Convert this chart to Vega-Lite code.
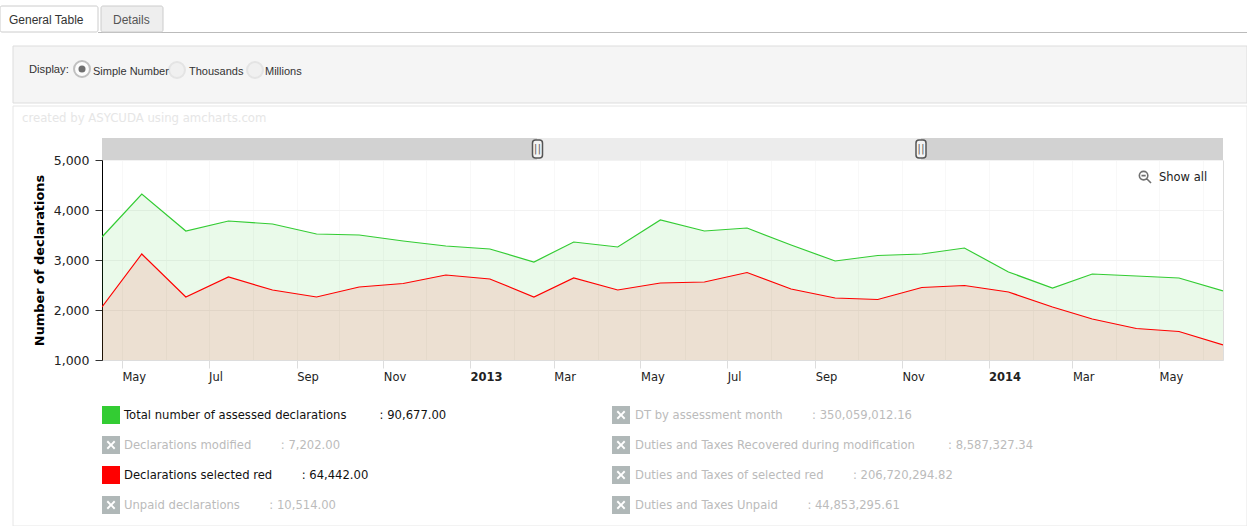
{"$schema":"https://vega.github.io/schema/vega-lite/v6.json","width":1121,"height":200,"autosize":"none","padding":{"left":102,"top":160,"right":24,"bottom":166},"background":"white","resolve":{"scale":{"x":"independent","y":"independent","color":"independent"},"axis":{"x":"independent","y":"independent"}},"layer":[
{"data":{"values":[{"part":"chart frame"}]},"mark":{"type":"rect","fill":"transparent","stroke":"#e6e6e6"},"encoding":{"x":{"datum":0,"scale":{"domain":[0,1],"range":[-89,1145]},"axis":null},"x2":{"datum":1},"y":{"datum":0,"scale":{"domain":[0,1],"range":[-54,366]},"axis":null},"y2":{"datum":1}}},
{"data":{"values":[{"part":"display panel"}]},"mark":{"type":"rect","fill":"#f5f5f5","stroke":"#dddddd"},"encoding":{"x":{"datum":0,"scale":{"domain":[0,1],"range":[-89,1145]},"axis":null},"x2":{"datum":1},"y":{"datum":0,"scale":{"domain":[0,1],"range":[-114,-57]},"axis":null},"y2":{"datum":1}}},
{"data":{"values":[{"part":"tab rule"}]},"mark":{"type":"rect","fill":"#bbbbbb"},"encoding":{"x":{"datum":0,"scale":{"domain":[0,1],"range":[-4,1145]},"axis":null},"x2":{"datum":1},"y":{"datum":0,"scale":{"domain":[0,1],"range":[-128,-127]},"axis":null},"y2":{"datum":1}}},
{"data":{"values":[{"part":"General Table tab"}]},"mark":{"type":"rect","fill":"white","stroke":"#cccccc","cornerRadius":2},"encoding":{"x":{"datum":0,"scale":{"domain":[0,1],"range":[-102,-4]},"axis":null},"x2":{"datum":1},"y":{"datum":0,"scale":{"domain":[0,1],"range":[-154,-128]},"axis":null},"y2":{"datum":1}}},
{"data":{"values":[{"part":"Details tab"}]},"mark":{"type":"rect","fill":"#eeeeee","stroke":"#cccccc","cornerRadius":2},"encoding":{"x":{"datum":0,"scale":{"domain":[0,1],"range":[-1,61]},"axis":null},"x2":{"datum":1},"y":{"datum":0,"scale":{"domain":[0,1],"range":[-154,-128]},"axis":null},"y2":{"datum":1}}},
{"data":{"values":[{"part":"scrollbar"}]},"mark":{"type":"rect","fill":"#d2d2d2"},"encoding":{"x":{"datum":0,"scale":{"domain":[0,1],"range":[0,1121]},"axis":null},"x2":{"datum":1},"y":{"datum":0,"scale":{"domain":[0,1],"range":[-22,0]},"axis":null},"y2":{"datum":1}}},
{"data":{"values":[{"part":"scrollbar window"}]},"mark":{"type":"rect","fill":"#ececec"},"encoding":{"x":{"datum":0,"scale":{"domain":[0,1],"range":[435,819]},"axis":null},"x2":{"datum":1},"y":{"datum":0,"scale":{"domain":[0,1],"range":[-22,0]},"axis":null},"y2":{"datum":1}}},
{"data":{"values":[{"handle":"start"},{"handle":"end"}]},"mark":{"type":"rect","width":10,"height":18,"fill":"#f4f4f4","stroke":"#555555","strokeWidth":1.5,"cornerRadius":3},"encoding":{"x":{"field":"handle","type":"nominal","scale":{"type":"point","domain":["start","end"],"range":[435.5,819],"padding":0},"axis":null},"y":{"datum":0,"scale":{"domain":[0,1],"range":[-11,-10]},"axis":null}}},
{"data":{"values":[{"handle":"start"},{"handle":"end"}]},"mark":{"type":"text","text":"||","font":"DejaVu Sans","fontSize":11,"color":"#666666","align":"center","baseline":"middle"},"encoding":{"x":{"field":"handle","type":"nominal","scale":{"type":"point","domain":["start","end"],"range":[435.5,819],"padding":0},"axis":null},"y":{"datum":0,"scale":{"domain":[0,1],"range":[-11,-10]},"axis":null}}},
{"data":{"values":[{"option":"Simple Number"}]},"mark":{"type":"point","shape":"circle","size":254,"filled":true,"fill":"white","stroke":"#aaaaaa"},"encoding":{"x":{"datum":0,"scale":{"domain":[0,1],"range":[-20,-19]},"axis":null},"y":{"datum":0,"scale":{"domain":[0,1],"range":[-91,-90]},"axis":null}}},
{"data":{"values":[{"option":"Simple Number"}]},"mark":{"type":"point","shape":"circle","size":50,"filled":true,"fill":"#333333","stroke":null},"encoding":{"x":{"datum":0,"scale":{"domain":[0,1],"range":[-20,-19]},"axis":null},"y":{"datum":0,"scale":{"domain":[0,1],"range":[-91,-90]},"axis":null}}},
{"data":{"values":[{"option":"Thousands"},{"option":"Millions"}]},"mark":{"type":"point","shape":"circle","size":254,"filled":true,"fill":"#eeeeee","stroke":"#dddddd"},"encoding":{"x":{"field":"option","type":"nominal","scale":{"type":"point","domain":["Thousands","Millions"],"range":[75,153],"padding":0},"axis":null},"y":{"datum":0,"scale":{"domain":[0,1],"range":[-90,-89]},"axis":null}}},
{"data":{"values":[{"label":"General Table"}]},"mark":{"type":"text","font":"Liberation Sans","fontSize":12,"color":"#333333","align":"left","baseline":"middle"},"encoding":{"text":{"field":"label"},"x":{"datum":0,"scale":{"domain":[0,1],"range":[-93,-92]},"axis":null},"y":{"datum":0,"scale":{"domain":[0,1],"range":[-140,-139]},"axis":null}}},
{"data":{"values":[{"label":"Details"}]},"mark":{"type":"text","font":"Liberation Sans","fontSize":12,"color":"#555555","align":"left","baseline":"middle"},"encoding":{"text":{"field":"label"},"x":{"datum":0,"scale":{"domain":[0,1],"range":[11,12]},"axis":null},"y":{"datum":0,"scale":{"domain":[0,1],"range":[-140,-139]},"axis":null}}},
{"data":{"values":[{"label":"Display:"}]},"mark":{"type":"text","font":"Liberation Sans","fontSize":11.2,"color":"#333333","align":"left","baseline":"middle"},"encoding":{"text":{"field":"label"},"x":{"datum":0,"scale":{"domain":[0,1],"range":[-73,-72]},"axis":null},"y":{"datum":0,"scale":{"domain":[0,1],"range":[-90,-89]},"axis":null}}},
{"data":{"values":[{"label":"Simple Number"}]},"mark":{"type":"text","font":"Liberation Sans","fontSize":11,"color":"#333333","align":"left","baseline":"middle"},"encoding":{"text":{"field":"label"},"x":{"datum":0,"scale":{"domain":[0,1],"range":[-9,-8]},"axis":null},"y":{"datum":0,"scale":{"domain":[0,1],"range":[-88,-87]},"axis":null}}},
{"data":{"values":[{"label":"Thousands"}]},"mark":{"type":"text","font":"Liberation Sans","fontSize":11,"color":"#333333","align":"left","baseline":"middle"},"encoding":{"text":{"field":"label"},"x":{"datum":0,"scale":{"domain":[0,1],"range":[87,88]},"axis":null},"y":{"datum":0,"scale":{"domain":[0,1],"range":[-88,-87]},"axis":null}}},
{"data":{"values":[{"label":"Millions"}]},"mark":{"type":"text","font":"Liberation Sans","fontSize":11,"color":"#333333","align":"left","baseline":"middle"},"encoding":{"text":{"field":"label"},"x":{"datum":0,"scale":{"domain":[0,1],"range":[163,164]},"axis":null},"y":{"datum":0,"scale":{"domain":[0,1],"range":[-88,-87]},"axis":null}}},
{"data":{"values":[{"label":"created by ASYCUDA using amcharts.com"}]},"mark":{"type":"text","font":"DejaVu Sans","fontSize":11.7,"color":"#e6e6e6","align":"left","baseline":"middle"},"encoding":{"text":{"field":"label"},"x":{"datum":0,"scale":{"domain":[0,1],"range":[-80,-79]},"axis":null},"y":{"datum":0,"scale":{"domain":[0,1],"range":[-42,-41]},"axis":null}}},
{"data":{"name":"months","values":[
{"month":"2012-04-17","series":"Total number of assessed declarations","count":3460},{"month":"2012-05-15","series":"Total number of assessed declarations","count":4320},{"month":"2012-06-15","series":"Total number of assessed declarations","count":3580},{"month":"2012-07-15","series":"Total number of assessed declarations","count":3780},{"month":"2012-08-15","series":"Total number of assessed declarations","count":3720},{"month":"2012-09-15","series":"Total number of assessed declarations","count":3520},{"month":"2012-10-15","series":"Total number of assessed declarations","count":3500},{"month":"2012-11-15","series":"Total number of assessed declarations","count":3380},{"month":"2012-12-15","series":"Total number of assessed declarations","count":3280},{"month":"2013-01-15","series":"Total number of assessed declarations","count":3220},{"month":"2013-02-15","series":"Total number of assessed declarations","count":2960},{"month":"2013-03-15","series":"Total number of assessed declarations","count":3360},{"month":"2013-04-15","series":"Total number of assessed declarations","count":3260},{"month":"2013-05-15","series":"Total number of assessed declarations","count":3800},{"month":"2013-06-15","series":"Total number of assessed declarations","count":3580},{"month":"2013-07-15","series":"Total number of assessed declarations","count":3640},{"month":"2013-08-15","series":"Total number of assessed declarations","count":3300},{"month":"2013-09-15","series":"Total number of assessed declarations","count":2980},{"month":"2013-10-15","series":"Total number of assessed declarations","count":3090},{"month":"2013-11-15","series":"Total number of assessed declarations","count":3120},{"month":"2013-12-15","series":"Total number of assessed declarations","count":3240},{"month":"2014-01-15","series":"Total number of assessed declarations","count":2760},{"month":"2014-02-15","series":"Total number of assessed declarations","count":2440},{"month":"2014-03-15","series":"Total number of assessed declarations","count":2720},{"month":"2014-04-15","series":"Total number of assessed declarations","count":2680},{"month":"2014-05-15","series":"Total number of assessed declarations","count":2640},{"month":"2014-06-15","series":"Total number of assessed declarations","count":2380},
{"month":"2012-04-17","series":"Declarations selected red","count":2060},{"month":"2012-05-15","series":"Declarations selected red","count":3120},{"month":"2012-06-15","series":"Declarations selected red","count":2260},{"month":"2012-07-15","series":"Declarations selected red","count":2660},{"month":"2012-08-15","series":"Declarations selected red","count":2400},{"month":"2012-09-15","series":"Declarations selected red","count":2260},{"month":"2012-10-15","series":"Declarations selected red","count":2460},{"month":"2012-11-15","series":"Declarations selected red","count":2530},{"month":"2012-12-15","series":"Declarations selected red","count":2700},{"month":"2013-01-15","series":"Declarations selected red","count":2620},{"month":"2013-02-15","series":"Declarations selected red","count":2260},{"month":"2013-03-15","series":"Declarations selected red","count":2640},{"month":"2013-04-15","series":"Declarations selected red","count":2400},{"month":"2013-05-15","series":"Declarations selected red","count":2540},{"month":"2013-06-15","series":"Declarations selected red","count":2560},{"month":"2013-07-15","series":"Declarations selected red","count":2750},{"month":"2013-08-15","series":"Declarations selected red","count":2420},{"month":"2013-09-15","series":"Declarations selected red","count":2240},{"month":"2013-10-15","series":"Declarations selected red","count":2210},{"month":"2013-11-15","series":"Declarations selected red","count":2450},{"month":"2013-12-15","series":"Declarations selected red","count":2490},{"month":"2014-01-15","series":"Declarations selected red","count":2360},{"month":"2014-02-15","series":"Declarations selected red","count":2060},{"month":"2014-03-15","series":"Declarations selected red","count":1820},{"month":"2014-04-15","series":"Declarations selected red","count":1630},{"month":"2014-05-15","series":"Declarations selected red","count":1570},{"month":"2014-06-15","series":"Declarations selected red","count":1300}
]},"layer":[
{"mark":{"type":"area","opacity":0.1,"clip":true},"encoding":{"x":{"field":"month","type":"temporal"},"y":{"field":"count","type":"quantitative","stack":null},"y2":{"datum":1000},"fill":{"field":"series","type":"nominal","scale":{"domain":["Total number of assessed declarations","Declarations selected red"],"range":["#33cc33","#ff0000"]},"legend":null}}},
{"mark":{"type":"line","strokeWidth":1.2,"clip":true},"encoding":{"x":{"field":"month","type":"temporal","scale":{"domain":["2012-04-17T00:00:00","2014-06-15T00:00:00"]},"title":null,"axis":{"orient":"bottom","title":null,"values":["2012-05-01T00:00:00","2012-06-01T00:00:00","2012-07-01T00:00:00","2012-08-01T00:00:00","2012-09-01T00:00:00","2012-10-01T00:00:00","2012-11-01T00:00:00","2012-12-01T00:00:00","2013-01-01T00:00:00","2013-02-01T00:00:00","2013-03-01T00:00:00","2013-04-01T00:00:00","2013-05-01T00:00:00","2013-06-01T00:00:00","2013-07-01T00:00:00","2013-08-01T00:00:00","2013-09-01T00:00:00","2013-10-01T00:00:00","2013-11-01T00:00:00","2013-12-01T00:00:00","2014-01-01T00:00:00","2014-02-01T00:00:00","2014-03-01T00:00:00","2014-04-01T00:00:00","2014-05-01T00:00:00","2014-06-01T00:00:00"],"labelExpr":"month(datum.value)%2==1 ? '' : (month(datum.value)==0 ? timeFormat(datum.value,'%Y') : timeFormat(datum.value,'%b'))","labelFont":"DejaVu Sans","labelFontSize":11.5,"labelColor":"#222222","labelAlign":"left","labelBaseline":"middle","labelPadding":9,"labelOverlap":false,"labelFlush":false,"labelFontWeight":{"condition":{"test":"month(datum.value)==0","value":"bold"},"value":"normal"},"tickColor":"#dddddd","tickSize":8,"tickOpacity":{"condition":{"test":"month(datum.value)%2==1","value":0},"value":1},"domainColor":"#dddddd","grid":true,"gridColor":"#f0f0f0","gridDash":[1,1]}},"y":{"field":"count","type":"quantitative","stack":null,"scale":{"domain":[1000,5000],"nice":false,"zero":false},"axis":{"title":"Number of declarations","titleFont":"DejaVu Sans","titleFontSize":12.9,"titleFontWeight":"bold","titleColor":"#000000","titlePadding":7,"values":[1000,2000,3000,4000,5000],"format":",d","labelFont":"DejaVu Sans","labelFontSize":12.5,"labelColor":"#222222","labelPadding":6,"domainColor":"#000000","tickColor":"#333333","tickSize":7,"grid":true,"gridColor":"#f2f2f2"}},"stroke":{"field":"series","type":"nominal","scale":{"domain":["Total number of assessed declarations","Declarations selected red"],"range":["#33cc33","#ff0000"]},"legend":null}}}
],"resolve":{"scale":{"x":"shared","y":"shared"}}},
{"data":{"values":[{"control":"Show all"}]},"mark":{"type":"point","shape":"M-0.8,-0.2A0.6,0.6 0 1,1 0.4,-0.2A0.6,0.6 0 1,1 -0.8,-0.2M0.25,0.25L0.85,0.85M-0.5,-0.2L0.1,-0.2","size":200,"filled":false,"stroke":"#333333","strokeWidth":1.6},"encoding":{"x":{"datum":0,"scale":{"domain":[0,1],"range":[1043,1044]},"axis":null},"y":{"datum":0,"scale":{"domain":[0,1],"range":[17,18]},"axis":null}}},
{"data":{"values":[{"control":"Show all"}]},"mark":{"type":"text","font":"DejaVu Sans","fontSize":11.5,"color":"#222222","align":"left","baseline":"middle"},"encoding":{"text":{"field":"control"},"x":{"datum":0,"scale":{"domain":[0,1],"range":[1057,1058]},"axis":null},"y":{"datum":0,"scale":{"domain":[0,1],"range":[18,19]},"axis":null}}},
{"data":{"name":"legendRows","values":[
{"series":"Total number of assessed declarations","entry":"Total number of assessed declarations\u00a0\u00a0\u00a0\u00a0\u00a0\u00a0\u00a0\u00a0\u00a0: 90,677.00","column":"left","slot":"1","state":"shown"},
{"series":"Declarations modified","entry":"Declarations modified\u00a0\u00a0\u00a0\u00a0\u00a0\u00a0\u00a0\u00a0: 7,202.00","column":"left","slot":"2","state":"hidden"},
{"series":"Declarations selected red","entry":"Declarations selected red\u00a0\u00a0\u00a0\u00a0\u00a0\u00a0\u00a0\u00a0: 64,442.00","column":"left","slot":"3","state":"shown"},
{"series":"Unpaid declarations","entry":"Unpaid declarations\u00a0\u00a0\u00a0\u00a0\u00a0\u00a0\u00a0\u00a0: 10,514.00","column":"left","slot":"4","state":"hidden"},
{"series":"DT by assessment month","entry":"DT by assessment month\u00a0\u00a0\u00a0\u00a0\u00a0\u00a0\u00a0\u00a0: 350,059,012.16","column":"right","slot":"1","state":"hidden"},
{"series":"Duties and Taxes Recovered during modification","entry":"Duties and Taxes Recovered during modification\u00a0\u00a0\u00a0\u00a0\u00a0\u00a0\u00a0\u00a0\u00a0: 8,587,327.34","column":"right","slot":"2","state":"hidden"},
{"series":"Duties and Taxes of selected red","entry":"Duties and Taxes of selected red\u00a0\u00a0\u00a0\u00a0\u00a0\u00a0\u00a0\u00a0: 206,720,294.82","column":"right","slot":"3","state":"hidden"},
{"series":"Duties and Taxes Unpaid","entry":"Duties and Taxes Unpaid\u00a0\u00a0\u00a0\u00a0\u00a0\u00a0\u00a0\u00a0: 44,853,295.61","column":"right","slot":"4","state":"hidden"}
]},"layer":[
{"mark":{"type":"point","shape":"square","size":324,"filled":true,"stroke":null,"opacity":1},"encoding":{"x":{"field":"column","type":"nominal","scale":{"type":"point","domain":["left","right"],"range":[9,519],"padding":0},"axis":null},"y":{"field":"slot","type":"nominal","scale":{"type":"point","domain":["1","2","3","4"],"range":[255,345],"padding":0},"axis":null},"color":{"field":"series","type":"nominal","scale":{"domain":["Total number of assessed declarations","Declarations selected red","Declarations modified","Unpaid declarations","DT by assessment month","Duties and Taxes Recovered during modification","Duties and Taxes of selected red","Duties and Taxes Unpaid"],"range":["#33cc33","#ff0000","#b0b8b8","#b0b8b8","#b0b8b8","#b0b8b8","#b0b8b8","#b0b8b8"]},"legend":null}}},
{"transform":[{"filter":"datum.state=='hidden'"}],"mark":{"type":"point","shape":"M-0.8,-0.55L-0.55,-0.8L0,-0.25L0.55,-0.8L0.8,-0.55L0.25,0L0.8,0.55L0.55,0.8L0,0.25L-0.55,0.8L-0.8,0.55L-0.25,0Z","size":120,"filled":true,"fill":"white","stroke":null,"opacity":1},"encoding":{"x":{"field":"column","type":"nominal","scale":{"type":"point","domain":["left","right"],"range":[9,519],"padding":0},"axis":null},"y":{"field":"slot","type":"nominal","scale":{"type":"point","domain":["1","2","3","4"],"range":[255,345],"padding":0},"axis":null}}},
{"mark":{"type":"text","font":"DejaVu Sans","fontSize":11.6,"align":"left","baseline":"middle"},"encoding":{"text":{"field":"entry"},"x":{"field":"column","type":"nominal","scale":{"type":"point","domain":["left","right"],"range":[22,533],"padding":0},"axis":null},"y":{"field":"slot","type":"nominal","scale":{"type":"point","domain":["1","2","3","4"],"range":[256,346],"padding":0},"axis":null},"color":{"field":"state","type":"nominal","scale":{"domain":["shown","hidden"],"range":["#111111","#bbbbbb"]},"legend":null}}}
],"resolve":{"scale":{"x":"independent","y":"independent","color":"independent"}}}
]}
